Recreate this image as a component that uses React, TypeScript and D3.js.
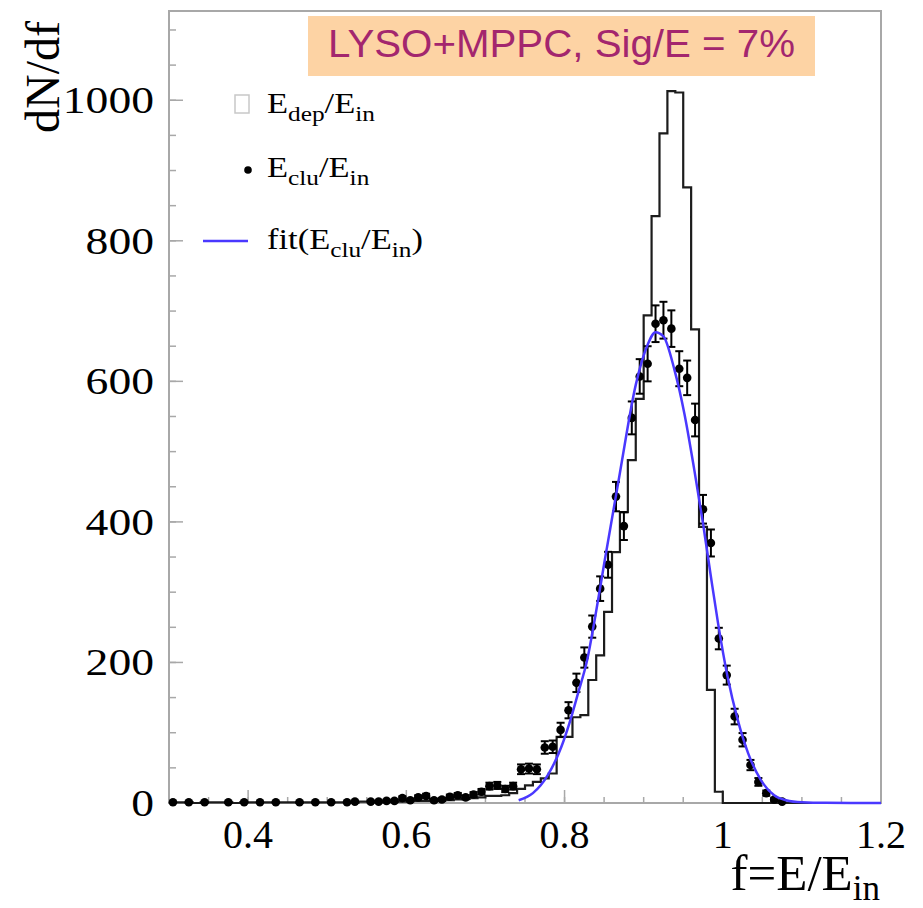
import { useEffect, useRef } from "react";
import * as d3 from "d3";

// E_dep/E_in histogram: bins of 0.01 starting at 0.30
const binStart = 0.3;
const binWidth = 0.01;
const depCounts = [
  1, 1, 1, 0, 1, 1, 1, 1, 0, 1,
  1, 1, 1, 1, 1, 1, 1, 1, 1, 1,
  1, 1, 1, 1, 2, 2, 2, 2, 2, 2,
  3, 3, 3, 4, 4, 4, 5, 6, 7, 8,
  10, 10, 11, 14, 20, 25, 30, 35, 42, 94,
  94, 122, 125, 175, 210, 272, 357, 414, 488, 575,
  694, 835, 953, 1013, 1011, 876, 674, 393, 161, 16,
  0, 0, 0, 0, 0, 0, 0, 0, 0, 0,
  0, 0, 0, 0, 0, 0, 0, 0, 0, 0,
];

// E_clu/E_in points with errors
const cluX = [
  0.305, 0.325, 0.345, 0.375, 0.395, 0.415, 0.435, 0.465, 0.485, 0.505,
  0.525, 0.535, 0.555, 0.565, 0.575, 0.585, 0.595, 0.605, 0.615, 0.625,
  0.635, 0.645, 0.655, 0.665, 0.675, 0.685, 0.695, 0.705, 0.715, 0.725,
  0.735, 0.745, 0.755, 0.765, 0.775, 0.785, 0.795, 0.805, 0.815, 0.825,
  0.835, 0.845, 0.855, 0.865, 0.875, 0.885, 0.895, 0.905, 0.915, 0.925,
  0.935, 0.945, 0.955, 0.965, 0.975, 0.985, 0.995, 1.005, 1.015, 1.025,
  1.035, 1.045, 1.055, 1.065, 1.075,
];
const cluY = [
  1, 1, 1, 1, 1, 1, 1, 1, 1, 1,
  1, 2, 2, 2, 3, 3, 7, 4, 8, 10,
  4, 5, 9, 11, 8, 12, 16, 24, 25, 20,
  24, 48, 49, 48, 79, 80, 104, 132, 171, 207,
  251, 305, 339, 436, 394, 548, 607, 625, 682, 687,
  675, 618, 605, 545, 418, 370, 234, 182, 123, 90,
  54, 30, 14, 5, 2,
];
const cluErr = [
  1, 1, 1, 1, 1, 1, 1, 1, 1, 1,
  1, 1.4, 1.4, 1.4, 1.7, 1.7, 2.6, 2, 2.8, 3.2,
  2, 2.2, 3, 3.3, 2.8, 3.5, 4, 4.9, 5, 4.5,
  4.9, 6.9, 7, 6.9, 8.9, 8.9, 10.2, 11.5, 13.1, 14.4,
  15.8, 17.5, 18.4, 20.9, 19.8, 23.4, 24.6, 25, 26.1, 26.2,
  26, 24.9, 24.6, 23.3, 20.4, 19.2, 15.3, 13.5, 11.1, 9.5,
  7.3, 5.5, 3.7, 2.2, 1.4,
];

// fit curve
const fitX = [
  0.742, 0.76, 0.779, 0.796, 0.806, 0.817, 0.8285, 0.838, 0.85, 0.87,
  0.89, 0.905, 0.915, 0.925, 0.939, 0.9515, 0.964, 0.975, 0.985, 0.994,
  1.006, 1.019, 1.032, 1.048, 1.065, 1.08, 1.1, 1.13, 1.2,
];
const fitY = [
  4, 14, 40, 80, 113, 156, 203, 260, 340, 470,
  595, 652, 670, 664, 616, 554, 474, 398, 322, 256,
  180, 118, 71, 33, 11, 4, 1, 0.2, 0,
];

const xLabels = [0.4, 0.6, 0.8, 1, 1.2];
const yLabels = [0, 200, 400, 600, 800, 1000];

const serif = "'Liberation Serif', 'Times New Roman', serif";

export default function App() {
  const svgRef = useRef(null);

  useEffect(() => {
    const w = 923;
    const h = 908;
    const svg = d3.select(svgRef.current).attr("width", w).attr("height", h);
    svg.selectAll("*").remove();

    const x = d3.scaleLinear().domain([0.3, 1.2]).range([169, 881]);
    const y = d3.scaleLinear().domain([0, 1127]).range([803, 11]);
    const gray = "#a8a8a8";

    // minor / major ticks (drawn inside the frame, ROOT style)
    svg.append("g")
      .selectAll("line")
      .data(x.ticks(18))
      .join("line")
      .attr("x1", (d) => x(d)).attr("x2", (d) => x(d))
      .attr("y1", 803).attr("y2", 797)
      .attr("stroke", gray).attr("stroke-width", 1.5);
    svg.append("g")
      .selectAll("line")
      .data(xLabels)
      .join("line")
      .attr("x1", (d) => x(d)).attr("x2", (d) => x(d))
      .attr("y1", 803).attr("y2", 790)
      .attr("stroke", gray).attr("stroke-width", 1.5);
    svg.append("g")
      .selectAll("line")
      .data(y.ticks(22))
      .join("line")
      .attr("x1", 169).attr("x2", 176)
      .attr("y1", (d) => y(d)).attr("y2", (d) => y(d))
      .attr("stroke", gray).attr("stroke-width", 1.5);
    svg.append("g")
      .selectAll("line")
      .data(yLabels)
      .join("line")
      .attr("x1", 169).attr("x2", 183)
      .attr("y1", (d) => y(d)).attr("y2", (d) => y(d))
      .attr("stroke", gray).attr("stroke-width", 1.5);

    // frame
    svg.append("rect")
      .attr("x", 169).attr("y", 11)
      .attr("width", 712).attr("height", 792)
      .attr("fill", "none").attr("stroke", gray).attr("stroke-width", 2);

    // tick labels
    svg.append("g")
      .selectAll("text")
      .data(xLabels)
      .join("text")
      .attr("x", (d) => x(d)).attr("y", 848)
      .attr("text-anchor", "middle")
      .attr("font-family", serif).attr("font-size", 40)
      .text((d) => d3.format("~g")(d));
    svg.append("g")
      .selectAll("text")
      .data(yLabels)
      .join("text")
      .attr("transform", (d) => `translate(154,${y(d) + 13}) scale(1.2,1)`)
      .attr("text-anchor", "end")
      .attr("font-family", serif).attr("font-size", 38)
      .text((d) => d);

    // axis titles
    const xt = svg.append("text")
      .attr("x", 880).attr("y", 890)
      .attr("text-anchor", "end")
      .attr("font-family", serif).attr("font-size", 51);
    xt.append("tspan").text("f=E/E");
    xt.append("tspan").attr("dy", 10).attr("font-size", 35).text("in");

    svg.append("text")
      .attr("transform", "translate(59,21) rotate(-90)")
      .attr("text-anchor", "end")
      .attr("font-family", serif).attr("font-size", 48)
      .text("dN/df");

    // histogram E_dep/E_in
    const steps = [];
    depCounts.forEach((c, i) => {
      const lo = binStart + i * binWidth;
      steps.push([lo, c], [lo + binWidth, c]);
    });
    svg.append("path")
      .attr("d", d3.line().x((d) => x(d[0])).y((d) => y(d[1]))(steps))
      .attr("fill", "none").attr("stroke", "#1c1c1c").attr("stroke-width", 2.2);

    // E_clu/E_in points
    const pts = svg.append("g").attr("stroke", "#000").attr("stroke-width", 2);
    cluX.forEach((cx, i) => {
      const px = x(cx);
      const top = y(cluY[i] + cluErr[i]);
      const bot = y(Math.max(0, cluY[i] - cluErr[i]));
      pts.append("line").attr("x1", px).attr("x2", px).attr("y1", top).attr("y2", bot);
      pts.append("line").attr("x1", px - 4).attr("x2", px + 4).attr("y1", top).attr("y2", top);
      pts.append("line").attr("x1", px - 4).attr("x2", px + 4).attr("y1", bot).attr("y2", bot);
      pts.append("circle").attr("cx", px).attr("cy", y(cluY[i])).attr("r", 4.3).attr("fill", "#000").attr("stroke", "none");
    });

    // fit
    const fitPts = fitX.map((fx, i) => [fx, fitY[i]]);
    svg.append("path")
      .attr("d", d3.line().x((d) => x(d[0])).y((d) => y(d[1])).curve(d3.curveMonotoneX)(fitPts))
      .attr("fill", "none").attr("stroke", "#4a38ff").attr("stroke-width", 2.5);

    // legend
    const lg = svg.append("g").attr("font-family", serif).attr("font-size", 30);
    lg.append("rect").attr("x", 235).attr("y", 95).attr("width", 14).attr("height", 18)
      .attr("fill", "none").attr("stroke", "#c8c8c8").attr("stroke-width", 1.5);
    lg.append("circle").attr("cx", 248).attr("cy", 170).attr("r", 3.8).attr("fill", "#000");
    lg.append("line").attr("x1", 203).attr("x2", 248).attr("y1", 241).attr("y2", 241)
      .attr("stroke", "#4a38ff").attr("stroke-width", 2.5);

    const entry = (yy, pre, sub1, sub2, post) => {
      const t = lg.append("text").attr("transform", `translate(267,${yy}) scale(1.15,1)`);
      t.append("tspan").text(pre + "E");
      t.append("tspan").attr("dy", 8).attr("font-size", 22).text(sub1);
      t.append("tspan").attr("dy", -8).text("/E");
      t.append("tspan").attr("dy", 8).attr("font-size", 22).text(sub2);
      if (post) t.append("tspan").attr("dy", -8).text(post);
    };
    entry(113, "", "dep", "in", "");
    entry(177, "", "clu", "in", "");
    entry(249, "fit(", "clu", "in", ")");

    // title box
    svg.append("rect").attr("x", 308).attr("y", 16).attr("width", 507).attr("height", 60)
      .attr("fill", "#fdd3a4");
    svg.append("text").attr("transform", "translate(328,57) scale(1.06,1)")
      .attr("font-family", "'Liberation Sans', Arial, sans-serif").attr("font-size", 38)
      .attr("fill", "#a3266e")
      .text("LYSO+MPPC, Sig/E = 7%");
  }, []);

  return (
    <svg ref={svgRef} style={{ position: "absolute", left: 0, top: 0, background: "#fff" }}></svg>
  );
}
